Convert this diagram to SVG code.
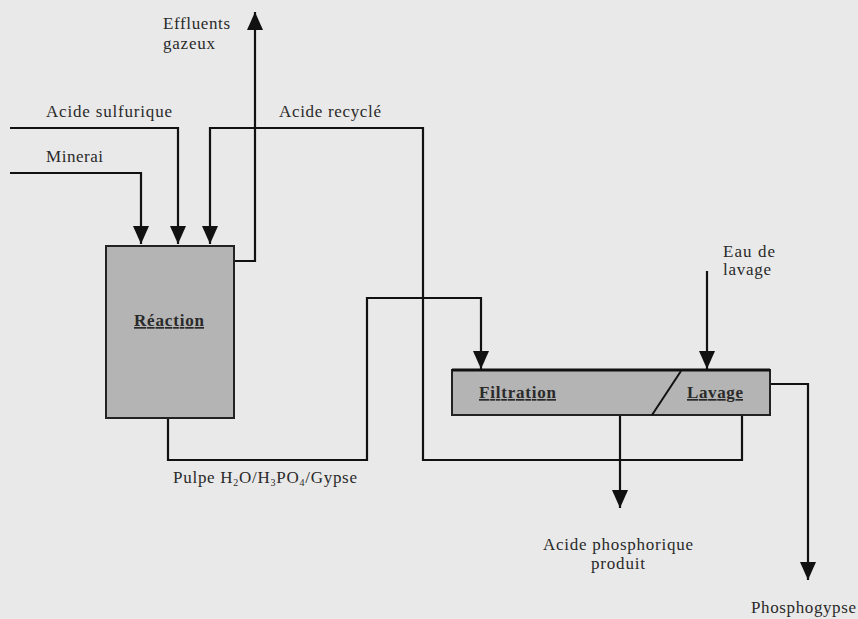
<svg xmlns="http://www.w3.org/2000/svg" width="858" height="619" viewBox="0 0 858 619">
<defs>
<marker id="ah" markerUnits="userSpaceOnUse" markerWidth="18" markerHeight="16" refX="18" refY="8" orient="auto">
<path d="M0,0 L18,8 L0,16 z" fill="#111"/>
</marker>
<style>
.t{font-family:"Liberation Serif","Times New Roman",serif;font-size:17px;fill:#2a2a2a}
.b{font-weight:bold;text-decoration:underline}
.c{fill:none;stroke:#111;stroke-width:2.2}
.a{marker-end:url(#ah)}
.box{fill:#b4b4b4;stroke:#222;stroke-width:2}
</style>
</defs>
<rect width="858" height="619" fill="#e9e9e9"/>
<g id="connectors">
<polyline class="c a" points="10,128 178,128 178,244"/>
<polyline class="c a" points="10,173 141,173 141,244"/>
<polyline class="c a" points="742,414 742,460 423,460 423,128 210,128 210,244"/>
<polyline class="c a" points="234,261 255,261 255,12"/>
<polyline class="c a" points="168,419 168,460 367,460 367,298 481,298 481,369"/>
<polyline class="c a" points="707,271 707,369"/>
<polyline class="c a" points="620,415 620,508"/>
<polyline class="c a" points="770,384 808,384 808,580"/>
</g>
<g id="reaction">
<rect class="box" x="106" y="246" width="128" height="172"/>
<text class="t b" x="169" y="326" text-anchor="middle" textLength="70">Réaction</text>
</g>
<g id="filtration">
<rect class="box" x="452" y="370" width="318" height="45"/>
<line x1="452" y1="370" x2="770" y2="370" stroke="#111" stroke-width="3"/>
<line x1="681" y1="371" x2="652" y2="415" stroke="#111" stroke-width="2"/>
<text class="t b" x="479" y="398" textLength="77">Filtration</text>
<text class="t b" x="687" y="398" textLength="56">Lavage</text>
</g>
<g id="labels">
<text class="t" x="163" y="29" textLength="67">Effluents</text>
<text class="t" x="163" y="49" textLength="52">gazeux</text>
<text class="t" x="46" y="117" textLength="126">Acide sulfurique</text>
<text class="t" x="46" y="162" textLength="57">Minerai</text>
<text class="t" x="279" y="117" textLength="102">Acide recyclé</text>
<text class="t" x="723" y="257" textLength="52">Eau de</text>
<text class="t" x="723" y="275" textLength="48">lavage</text>
<text class="t" x="173" y="483" textLength="184">Pulpe H<tspan font-size="10" dy="3">2</tspan><tspan dy="-3">O/H</tspan><tspan font-size="10" dy="3">3</tspan><tspan dy="-3">PO</tspan><tspan font-size="10" dy="3">4</tspan><tspan dy="-3">/Gypse</tspan></text>
<text class="t" x="618" y="550" text-anchor="middle" textLength="150">Acide phosphorique</text>
<text class="t" x="618" y="569" text-anchor="middle" textLength="54">produit</text>
<text class="t" x="751" y="613" textLength="105">Phosphogypse</text>
</g>
</svg>
